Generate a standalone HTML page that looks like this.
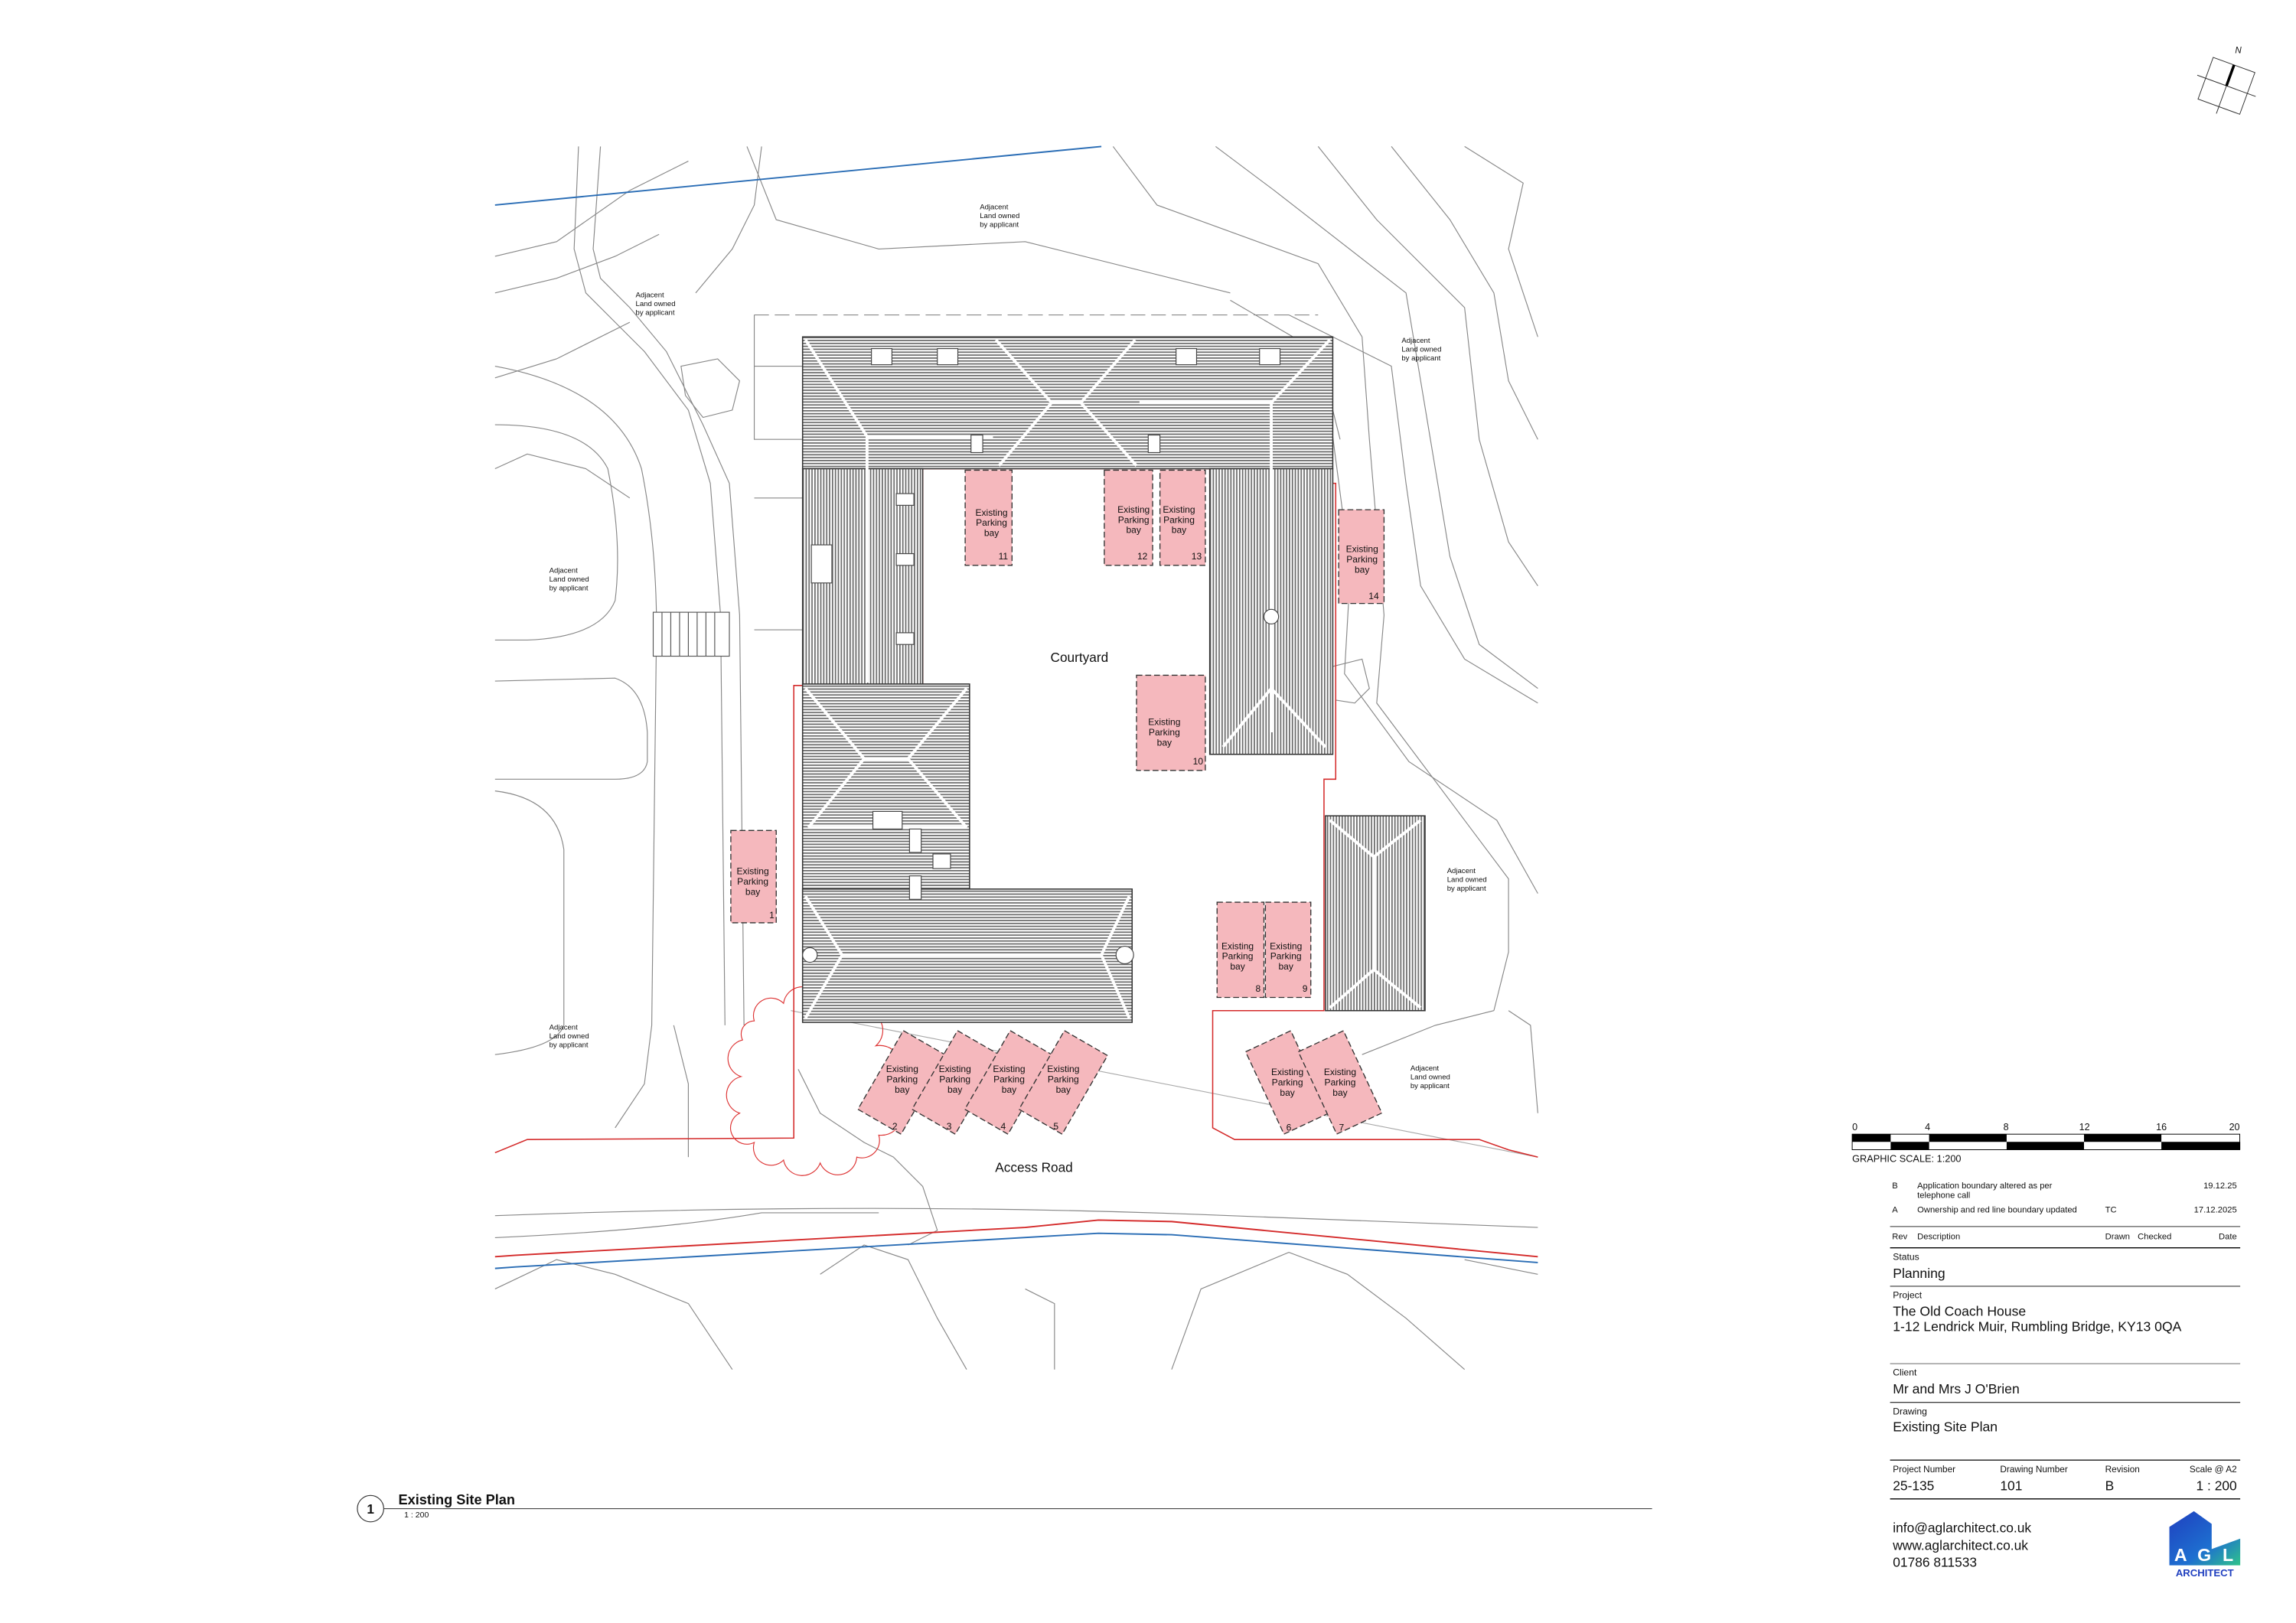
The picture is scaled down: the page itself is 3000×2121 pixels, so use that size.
<!DOCTYPE html>
<html><head><meta charset="utf-8"><style>
html,body{margin:0;padding:0;background:#fff}
svg{display:block}
text{font-family:"Liberation Sans",Arial,sans-serif;fill:#111}
</style></head><body>
<svg width="3000" height="2121" viewBox="0 0 1552 1097" preserveAspectRatio="none" xmlns="http://www.w3.org/2000/svg">
<defs>
<pattern id="ph" width="4" height="2" patternUnits="userSpaceOnUse"><rect width="4" height="2" fill="#fff"/><rect width="4" height="0.9" fill="#6a6a6a"/></pattern>
<pattern id="pv" width="2" height="4" patternUnits="userSpaceOnUse"><rect width="2" height="4" fill="#fff"/><rect width="0.9" height="4" fill="#6a6a6a"/></pattern>
<linearGradient id="lg" x1="0" y1="0" x2="1" y2="1"><stop offset="0" stop-color="#1f3fbf"/><stop offset="0.6" stop-color="#1e6fd0"/><stop offset="1" stop-color="#2fc38a"/></linearGradient>
</defs>

<g transform="scale(0.99)">
<g fill="none" stroke="#888" stroke-width="0.6">
<path d="M760,100 L790,140 L900,180 L930,230 L935,300 L945,420 L940,480 L1000,560 L1030,600 L1030,650 L1020,690"/>
<path d="M830,100 L870,130 L960,200 L975,290 L990,380 L1010,440 L1050,470"/>
<path d="M900,100 L940,150 L1000,210 L1010,300 L1030,370 L1050,400"/>
<path d="M950,100 L990,150 L1020,200 L1030,260 L1050,300"/>
<path d="M1000,100 L1040,125 L1030,170 L1050,230"/>
<path d="M860,230 L905,260 L922,390 L918,460 L962,520 L1022,560 L1050,610"/>
<path d="M840,205 L900,240 L915,300"/>
<path d="M880,215 L950,250 L960,330 L970,400 L1000,450 L1050,480"/>
<path d="M510,100 L530,150 L600,170 L700,165 L840,200"/>
<path d="M520,100 L515,140 L500,170 L475,200"/>
<path d="M338,175 L380,165 L430,130 L470,110"/>
<path d="M338,200 L380,190 L420,175 L450,160"/>
<path d="M338,258 L380,245 L400,235 L430,220"/>
<path d="M395,100 L392,170 L400,200 L420,220 L440,240 L470,280 L485,330 L492,420 L495,700"/>
<path d="M410,100 L405,170 L410,190 L430,210 L455,240 L480,290 L498,330 L505,420 L508,700"/>
<path d="M338,290 Q400,290 415,320 Q425,370 420,410 Q410,435 360,437 L338,437"/>
<path d="M338,465 L420,463 Q440,470 442,500 L442,520 Q440,532 420,532 L338,532"/>
<path d="M338,540 Q380,545 385,580 L385,700 Q380,715 338,720"/>
<path d="M338,250 Q420,265 438,320 Q450,380 448,450 L445,700 L440,740 L420,770"/>
<path d="M460,700 L470,740 L470,790"/>
<path d="M338,320 L360,310 L400,320 L430,340"/>
<path d="M338,830 Q600,820 840,830 L1050,838"/>
<path d="M338,845 Q450,840 520,828 L600,828"/>
<path d="M338,880 L380,860 L420,870 L470,890 L500,935"/>
<path d="M560,870 L590,850 L620,860 L640,900 L660,935"/>
<path d="M800,935 L820,880 L880,855 L920,870 L960,900 L1000,935"/>
<path d="M1000,860 L1050,870"/>
<path d="M700,880 L720,890 L720,935"/>
<path d="M1030,690 L1045,700 L1050,760"/>
<path d="M930,720 L980,700 L1020,690"/>
<path d="M540,690 L1050,790" stroke="#aaa"/>
<path d="M465,250 L490,245 L505,260 L500,280 L480,285 L468,270 Z"/>
<path d="M910,455 L930,450 L935,470 L925,480 L912,478"/>
<path d="M545,730 L560,760 L590,780 L610,790 L630,810 L640,840 L620,850"/>
<path d="M515,215 L515,300 L548,300 M515,250 L548,250 M515,340 L548,340 M515,430 L548,430"/>
<path d="M515,215 L548,215 M548,215 L900,215" stroke-dasharray="10 4"/>
</g>
<g fill="#fff" stroke="#555" stroke-width="0.6">
<rect x="446" y="418" width="52" height="30"/>
<path d="M452,418 V448 M458,418 V448 M464,418 V448 M470,418 V448 M476,418 V448 M482,418 V448 M488,418 V448"/>
</g>
<g fill="none" stroke="#2a6db5" stroke-width="1">
<path d="M338,140 L752,100"/>
<path d="M338,866 L352,865 L750,842 L800,843 L1050,862"/>
</g>
<g fill="none" stroke="#d42a2a" stroke-width="1">
<path d="M338,787 L360,778 L542,777 L542,468 L630,468 L630,320 L826,320 L826,330 L912,330 L912,532 L904,532 L904,690 L828,690 L828,770 L843,778 L1010,778 L1030,785 L1050,790" stroke-width="0.8"/>
<path d="M338,858 L352,857 L700,838 L750,833 L800,834 L1050,858"/>
</g>
<path d="M515,697 A12,12 0 0 1 535,685 A13,13 0 0 1 560,682 A13,13 0 0 1 585,690 A14,14 0 0 1 598,714 A15,15 0 0 1 603,745 A15,15 0 0 1 600,775 A12,12 0 0 1 585,790 A13,13 0 0 1 560,794 A13,13 0 0 1 535,792 A12,12 0 0 1 515,780 A11,11 0 0 1 505,760 A13,13 0 0 1 506,735 A13,13 0 0 1 507,710 A9,9 0 0 1 515,697 Z" fill="none" stroke="#d33" stroke-width="0.6"/>

<g stroke="#333" stroke-width="0.8">
<rect x="548" y="230" width="362" height="90" fill="url(#ph)"/>
<rect x="548" y="320" width="82" height="148" fill="url(#pv)"/>
<rect x="826" y="320" width="84" height="195" fill="url(#pv)"/>
<rect x="548" y="467" width="114" height="150" fill="url(#ph)"/>
<rect x="548" y="607" width="225" height="91" fill="url(#ph)"/>
<rect x="905" y="557" width="68" height="133" fill="url(#pv)"/>
</g>
<g fill="none" stroke="#fff" stroke-width="2">
<path d="M550,232 L592,298 L592,466 M592,298 L678,298"/>
<path d="M680,232 L718,275 L738,275 L775,232 M718,275 L682,318 M738,275 L776,318"/>
<path d="M908,232 L868,275 L868,500 M868,275 L778,275"/>
<path d="M868,470 L835,510 M868,470 L905,510"/>
<path d="M550,470 L590,518 L620,518 L660,470 M590,518 L552,565 M620,518 L660,565 M552,565 L660,565"/>
<path d="M550,612 L575,652 L752,652 L771,612 M575,652 L550,695 M752,652 L771,695"/>
<path d="M908,560 L938,585 L970,560 M938,585 L938,662 L908,688 M938,662 L970,688"/>
</g>
<g fill="#fff" stroke="#444" stroke-width="0.6">
<rect x="595" y="238" width="14" height="11"/><rect x="640" y="238" width="14" height="11"/>
<rect x="803" y="238" width="14" height="11"/><rect x="860" y="238" width="14" height="11"/>
<rect x="663" y="297" width="8" height="12"/><rect x="784" y="297" width="8" height="12"/>
<rect x="612" y="337" width="12" height="8"/><rect x="612" y="378" width="12" height="8"/><rect x="612" y="432" width="12" height="8"/>
<rect x="554" y="372" width="14" height="26"/>
<rect x="596" y="554" width="20" height="12"/><rect x="621" y="566" width="8" height="16"/><rect x="637" y="583" width="12" height="10"/><rect x="621" y="598" width="8" height="16"/>
<circle cx="868" cy="421" r="5"/><circle cx="768" cy="652" r="6"/><circle cx="553" cy="652" r="5"/>
</g>

<g fill="#f5b8bd" stroke="#333" stroke-width="0.7" stroke-dasharray="4 2">
<rect x="659" y="321" width="32" height="65"/>
<rect x="754" y="321" width="33" height="65"/>
<rect x="792" y="321" width="31" height="65"/>
<rect x="914" y="348" width="31" height="64"/>
<rect x="776" y="461" width="47" height="65"/>
<rect x="499" y="567" width="31" height="63"/>
<rect x="831" y="616" width="32" height="65"/>
<rect x="864" y="616" width="31" height="65"/>
<rect x="599" y="708" width="34" height="62" transform="rotate(30 616 739)"/>
<rect x="636" y="708" width="34" height="62" transform="rotate(30 653 739)"/>
<rect x="672" y="708" width="34" height="62" transform="rotate(30 689 739)"/>
<rect x="709" y="708" width="34" height="62" transform="rotate(30 726 739)"/>
<rect x="862" y="708" width="34" height="62" transform="rotate(-25 879 739)"/>
<rect x="898" y="708" width="34" height="62" transform="rotate(-25 915 739)"/>
</g>
<g font-size="6.3" text-anchor="middle">
<text x="677" y="352">Existing</text><text x="677" y="359">Parking</text><text x="677" y="366">bay</text><text x="685" y="382">11</text>
<text x="774" y="350">Existing</text><text x="774" y="357">Parking</text><text x="774" y="364">bay</text><text x="780" y="382">12</text>
<text x="805" y="350">Existing</text><text x="805" y="357">Parking</text><text x="805" y="364">bay</text><text x="817" y="382">13</text>
<text x="930" y="377">Existing</text><text x="930" y="384">Parking</text><text x="930" y="391">bay</text><text x="938" y="409">14</text>
<text x="795" y="495">Existing</text><text x="795" y="502">Parking</text><text x="795" y="509">bay</text><text x="818" y="522">10</text>
<text x="514" y="597">Existing</text><text x="514" y="604">Parking</text><text x="514" y="611">bay</text><text x="527" y="627">1</text>
<text x="845" y="648">Existing</text><text x="845" y="655">Parking</text><text x="845" y="662">bay</text><text x="859" y="677">8</text>
<text x="878" y="648">Existing</text><text x="878" y="655">Parking</text><text x="878" y="662">bay</text><text x="891" y="677">9</text>
<text x="616" y="732">Existing</text><text x="616" y="739">Parking</text><text x="616" y="746">bay</text><text x="611" y="771">2</text>
<text x="652" y="732">Existing</text><text x="652" y="739">Parking</text><text x="652" y="746">bay</text><text x="648" y="771">3</text>
<text x="689" y="732">Existing</text><text x="689" y="739">Parking</text><text x="689" y="746">bay</text><text x="685" y="771">4</text>
<text x="726" y="732">Existing</text><text x="726" y="739">Parking</text><text x="726" y="746">bay</text><text x="721" y="771">5</text>
<text x="879" y="734">Existing</text><text x="879" y="741">Parking</text><text x="879" y="748">bay</text><text x="880" y="772">6</text>
<text x="915" y="734">Existing</text><text x="915" y="741">Parking</text><text x="915" y="748">bay</text><text x="916" y="772">7</text>
</g>
<g font-size="9" text-anchor="middle">
<text x="737" y="452">Courtyard</text>
<text x="706" y="800">Access Road</text>
</g>
<g font-size="5">
<text x="669" y="143">Adjacent</text><text x="669" y="149">Land owned</text><text x="669" y="155">by applicant</text>
<text x="434" y="203">Adjacent</text><text x="434" y="209">Land owned</text><text x="434" y="215">by applicant</text>
<text x="375" y="391">Adjacent</text><text x="375" y="397">Land owned</text><text x="375" y="403">by applicant</text>
<text x="957" y="234">Adjacent</text><text x="957" y="240">Land owned</text><text x="957" y="246">by applicant</text>
<text x="988" y="596">Adjacent</text><text x="988" y="602">Land owned</text><text x="988" y="608">by applicant</text>
<text x="375" y="703">Adjacent</text><text x="375" y="709">Land owned</text><text x="375" y="715">by applicant</text>
<text x="963" y="731">Adjacent</text><text x="963" y="737">Land owned</text><text x="963" y="743">by applicant</text>
</g>
<circle cx="253" cy="1030" r="9" fill="#fff" stroke="#333" stroke-width="0.6"/>
<text x="253" y="1033.5" font-size="9" font-weight="bold" text-anchor="middle">1</text>
<line x1="262" y1="1030" x2="1128" y2="1030" stroke="#444" stroke-width="0.6"/>
<text x="272" y="1027" font-size="9.5" font-weight="bold">Existing Site Plan</text>
<text x="276" y="1036" font-size="5.5">1 : 200</text>
</g>

<g fill="none" stroke="#333" stroke-width="0.5" transform="rotate(20 1505 58)">
<rect x="1490" y="43" width="30" height="30"/>
<line x1="1484" y1="58" x2="1526" y2="58"/><line x1="1505" y1="43" x2="1505" y2="78"/>
<line x1="1505" y1="58" x2="1505" y2="43" stroke-width="1.8" stroke="#000"/>
</g>
<text x="1513" y="36" font-size="6" font-style="italic" text-anchor="middle">N</text>

<g font-size="5.8">
<text x="1252" y="764" font-size="6.5">0</text>
<text x="1303" y="764" font-size="6.5" text-anchor="middle">4</text>
<text x="1356" y="764" font-size="6.5" text-anchor="middle">8</text>
<text x="1409" y="764" font-size="6.5" text-anchor="middle">12</text>
<text x="1461" y="764" font-size="6.5" text-anchor="middle">16</text>
<text x="1514" y="764" font-size="6.5" text-anchor="end">20</text>
<rect x="1252" y="766.6" width="262" height="10.5" fill="#fff" stroke="#000" stroke-width="0.5"/>
<g fill="#000">
<rect x="1252" y="766.6" width="26" height="5.2"/><rect x="1278" y="771.8" width="26" height="5.3"/>
<rect x="1304" y="766.6" width="52.4" height="5.2"/><rect x="1356.4" y="771.8" width="52.3" height="5.3"/>
<rect x="1408.7" y="766.6" width="52.3" height="5.2"/><rect x="1461" y="771.8" width="53.3" height="5.3"/>
</g>
<text x="1252" y="785.4" font-size="6.6">GRAPHIC SCALE: 1:200</text>
<text x="1279" y="803.3">B</text><text x="1296" y="803.3">Application boundary altered as per</text><text x="1296" y="809.8">telephone call</text><text x="1512" y="803.3" text-anchor="end">19.12.25</text>
<text x="1279" y="819.6">A</text><text x="1296" y="819.6">Ownership and red line boundary updated</text><text x="1423" y="819.6">TC</text><text x="1512" y="819.6" text-anchor="end">17.12.2025</text>
<line x1="1277.6" y1="829" x2="1514.3" y2="829" stroke="#333" stroke-width="0.5"/>
<text x="1279" y="837.7">Rev</text><text x="1296" y="837.7">Description</text><text x="1423" y="837.7">Drawn</text><text x="1445" y="837.7">Checked</text><text x="1512" y="837.7" text-anchor="end">Date</text>
<line x1="1277.6" y1="843.4" x2="1514.3" y2="843.4" stroke="#000" stroke-width="0.7"/>
<text x="1279.5" y="851.7" font-size="6.3">Status</text>
<text x="1279.5" y="863.7" font-size="9.1">Planning</text>
<line x1="1277.6" y1="869.4" x2="1514.3" y2="869.4" stroke="#000" stroke-width="0.5"/>
<text x="1279.5" y="877.4" font-size="6.3">Project</text>
<text x="1279.5" y="889.4" font-size="9.1">The Old Coach House</text>
<text x="1279.5" y="899.7" font-size="9.1">1-12 Lendrick Muir, Rumbling Bridge, KY13 0QA</text>
<line x1="1277.6" y1="921.7" x2="1514.3" y2="921.7" stroke="#555" stroke-width="0.5"/>
<text x="1279.5" y="929.8" font-size="6.3">Client</text>
<text x="1279.5" y="941.8" font-size="9.1">Mr and Mrs J O'Brien</text>
<line x1="1277.6" y1="947.9" x2="1514.3" y2="947.9" stroke="#000" stroke-width="0.5"/>
<text x="1279.5" y="956" font-size="6.3">Drawing</text>
<text x="1279.5" y="967.5" font-size="9.1">Existing Site Plan</text>
<line x1="1277.6" y1="986.9" x2="1514.3" y2="986.9" stroke="#000" stroke-width="0.7"/>
<text x="1279.5" y="995.2" font-size="6.1">Project Number</text><text x="1352" y="995.2" font-size="6.1">Drawing Number</text><text x="1423" y="995.2" font-size="6.1">Revision</text><text x="1512" y="995.2" font-size="6.1" text-anchor="end">Scale @ A2</text>
<text x="1279.5" y="1007.2" font-size="9">25-135</text><text x="1352" y="1007.2" font-size="9">101</text><text x="1423" y="1007.2" font-size="9">B</text><text x="1512" y="1007.2" font-size="9" text-anchor="end">1 : 200</text>
<line x1="1277.6" y1="1013.1" x2="1514.3" y2="1013.1" stroke="#000" stroke-width="0.7"/>
<text x="1279.5" y="1035.6" font-size="9">info@aglarchitect.co.uk</text>
<text x="1279.5" y="1047.6" font-size="9">www.aglarchitect.co.uk</text>
<text x="1279.5" y="1058.9" font-size="9">01786 811533</text>
</g>
<path d="M1466.4,1032 L1483,1021.4 L1495,1030 L1495,1047 L1514.3,1040 L1514.3,1058 L1466.4,1058 Z" fill="url(#lg)"/>
<g font-size="12" font-weight="bold" text-anchor="middle">
<text x="1474" y="1055" style="fill:#fff">A</text><text x="1490" y="1055" style="fill:#fff">G</text><text x="1506" y="1055" style="fill:#fff">L</text>
</g>
<text x="1490.3" y="1065.4" font-size="6.8" font-weight="bold" text-anchor="middle" style="fill:#1f3fbf">ARCHITECT</text>
</svg>
</body></html>
